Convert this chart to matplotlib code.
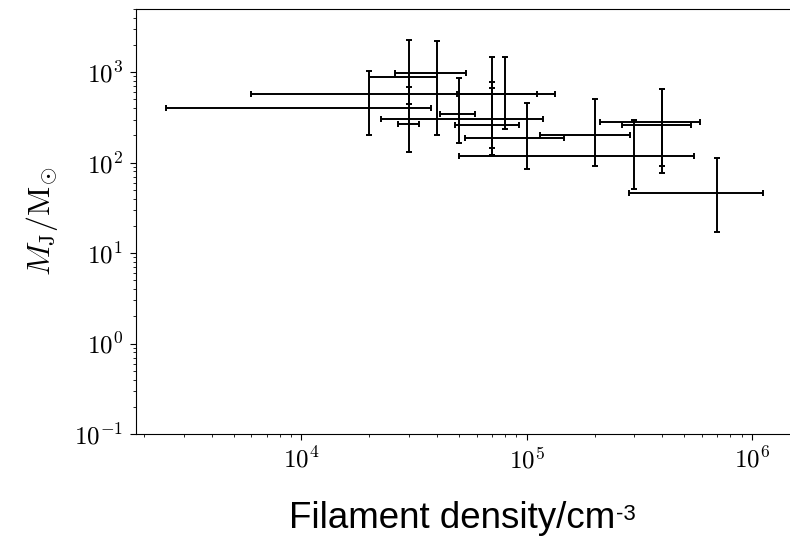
import numpy as np
import matplotlib
matplotlib.use("Agg")
import matplotlib.pyplot as plt
from matplotlib.ticker import FuncFormatter

# filament density (cm^-3) with symmetric errors
density = [2e4, 3e4, 3e4, 4e4, 5e4, 7e4, 7e4, 7e4, 8e4, 1e5, 2e5, 3e5, 4e5, 4e5, 7e5]
density_err = [17500, 10000, 3300, 14000, 9000, 64000, 47500, 22000, 31000,
               47000, 86000, 250000, 188000, 135000, 415000]

# Jeans mass (M_sun) with lower / upper bounds
mass = [404, 883, 269, 987, 341, 578, 305, 260, 578, 185, 200, 118, 283, 264, 46]
mass_lo = [200, 440, 132, 200, 166, 123, 146, 123, 233, 85, 91, 51, 91, 77, 17]
mass_hi = [1029, 2249, 684, 2210, 854, 1485, 777, 674, 1485, 460, 509, 293, 645, 645, 112]

plt.rcParams['mathtext.fontset'] = 'cm'

mass = np.array(mass)
yerr = [mass - np.array(mass_lo), np.array(mass_hi) - mass]

fig = plt.figure(figsize=(7.9, 5.4), dpi=100)
ax = fig.add_axes([136 / 790, 106 / 540, (792.5 - 136) / 790, 425 / 540])

ax.errorbar(density, mass, xerr=density_err, yerr=yerr, fmt='none',
            ecolor='black', elinewidth=1.4, capsize=2.5, capthick=1.4)

ax.set_xscale('log')
ax.set_yscale('log')
ax.set_ylim(0.1, 5000)

def pow_label(v, pos):
    return r"$10^{%d}$" % int(round(np.log10(v)))

ax.xaxis.set_major_formatter(FuncFormatter(pow_label))
ax.yaxis.set_major_formatter(FuncFormatter(pow_label))
ax.tick_params(axis='both', which='major', labelsize=18, length=4.5, pad=5)
ax.tick_params(axis='both', which='minor', length=2.5)
ax.set_ylabel(r"$M_{\rm J}/{\rm M}_{\odot}$", fontsize=23, labelpad=10)

# x label with a small raised "-3"
t = fig.text(289 / 790, 12 / 540, "Filament density/cm", fontsize=26.5,
             family='Liberation Sans', ha='left', va='baseline')
fig.canvas.draw()
bb = t.get_window_extent()
fig.text(bb.x1 / fig.bbox.width + 0.001, 20 / 540, "-3", fontsize=16,
         family='Liberation Sans', ha='left', va='baseline')

fig.savefig("out.png", dpi=100)
